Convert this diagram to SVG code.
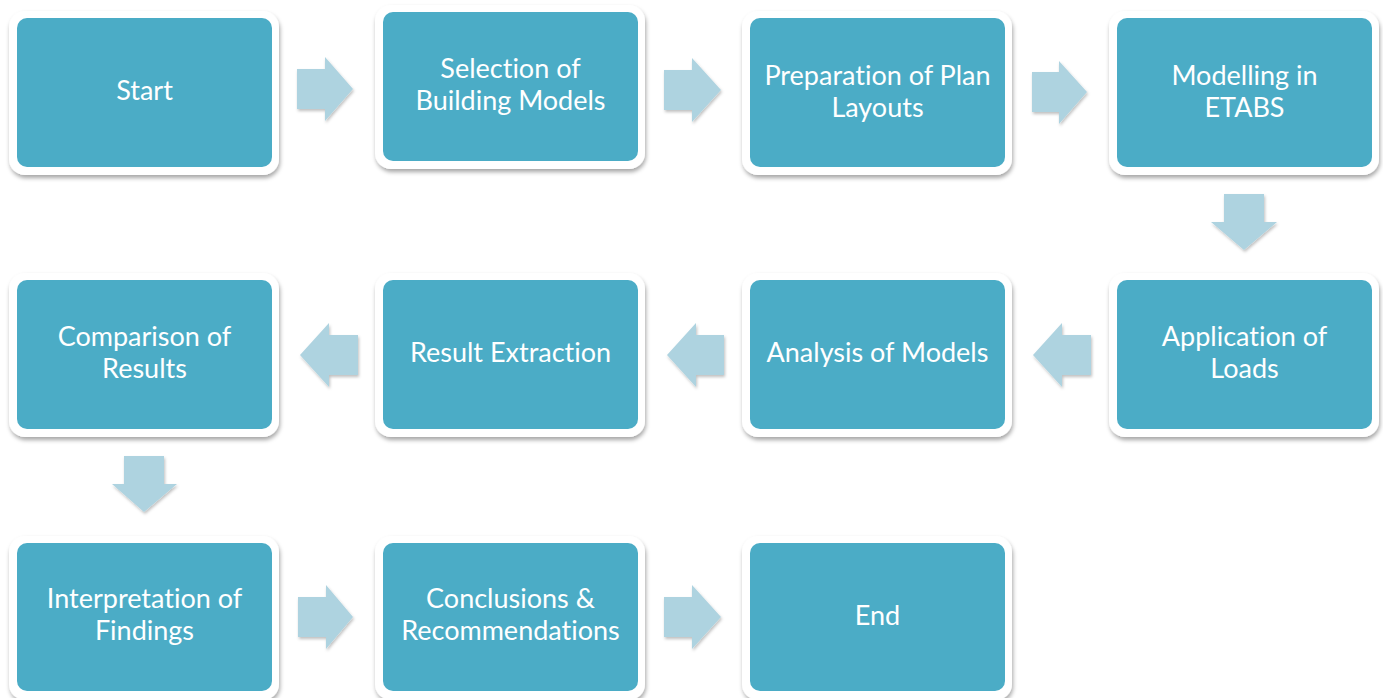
<svg xmlns="http://www.w3.org/2000/svg" width="1383" height="698" viewBox="0 0 1383 698">
<defs>
<filter id="sh" x="-10%" y="-10%" width="120%" height="130%">
<feDropShadow dx="1" dy="3" stdDeviation="2" flood-color="#000" flood-opacity="0.35"/>
</filter>
<filter id="ash" x="-20%" y="-20%" width="140%" height="140%">
<feDropShadow dx="1" dy="2" stdDeviation="1.5" flood-color="#000" flood-opacity="0.25"/>
</filter>
<style>
.frame{fill:#ffffff;filter:url(#sh)}
.box{fill:#4BACC6}
.lbl{fill:#ffffff;font-family:Lato,"Open Sans",sans-serif;font-size:27px;text-anchor:middle;font-variant-ligatures:none}
.arr{fill:#AED3E0;filter:url(#ash)}
</style>
</defs>
<rect width="1383" height="698" fill="#ffffff"/>
<g id="connectors">
<path class="arr" d="M297 69 H325 V57 L353 89 L325 121 V109 H297 Z"/>
<path class="arr" d="M664 70 H692 V58 L721 90 L692 122 V110 H664 Z"/>
<path class="arr" d="M1032 72 H1059 V61 L1087 92 L1059 124 V112 H1032 Z"/>
<path class="arr" d="M1224 194 V222 H1211 L1244 250 L1277 222 H1264 V194 Z"/>
<path class="arr" d="M1091 335 H1062 V323 L1033 355 L1062 387 V375 H1091 Z"/>
<path class="arr" d="M724 335 H696 V323 L667 355 L696 387 V375 H724 Z"/>
<path class="arr" d="M358 335 H329 V323 L300 355 L329 387 V375 H358 Z"/>
<path class="arr" d="M124 456 V484 H112 L144 512 L177 484 H164 V456 Z"/>
<path class="arr" d="M298 597 H326 V585 L353 617 L326 649 V637 H298 Z"/>
<path class="arr" d="M664 597 H692 V585 L721 617 L692 649 V637 H664 Z"/>
</g>
<g id="start">
<rect class="frame" x="9" y="11" width="270" height="164" rx="16"/>
<rect class="box" x="17" y="18" width="255" height="149" rx="10"/>
<text class="lbl" x="144.5" y="100">Start</text>
</g>
<g id="selection">
<rect class="frame" x="375" y="5" width="270" height="164" rx="16"/>
<rect class="box" x="383" y="12" width="255" height="149" rx="10"/>
<text class="lbl" x="510.5" y="78">Selection of</text>
<text class="lbl" x="510.5" y="110">Building Models</text>
</g>
<g id="preparation">
<rect class="frame" x="742" y="11" width="270" height="164" rx="16"/>
<rect class="box" x="750" y="18" width="255" height="149" rx="10"/>
<text class="lbl" x="877.5" y="85">Preparation of Plan</text>
<text class="lbl" x="877.5" y="117">Layouts</text>
</g>
<g id="modelling">
<rect class="frame" x="1109" y="11" width="270" height="164" rx="16"/>
<rect class="box" x="1117" y="18" width="255" height="149" rx="10"/>
<text class="lbl" x="1244.5" y="85">Modelling in</text>
<text class="lbl" x="1244.5" y="117">ETABS</text>
</g>
<g id="application">
<rect class="frame" x="1109" y="273" width="270" height="164" rx="16"/>
<rect class="box" x="1117" y="280" width="255" height="149" rx="10"/>
<text class="lbl" x="1244.5" y="346">Application of</text>
<text class="lbl" x="1244.5" y="378">Loads</text>
</g>
<g id="analysis">
<rect class="frame" x="742" y="273" width="270" height="164" rx="16"/>
<rect class="box" x="750" y="280" width="255" height="149" rx="10"/>
<text class="lbl" x="877.5" y="362">Analysis of Models</text>
</g>
<g id="extraction">
<rect class="frame" x="375" y="273" width="270" height="164" rx="16"/>
<rect class="box" x="383" y="280" width="255" height="149" rx="10"/>
<text class="lbl" x="510.5" y="362">Result Extraction</text>
</g>
<g id="comparison">
<rect class="frame" x="9" y="273" width="270" height="164" rx="16"/>
<rect class="box" x="17" y="280" width="255" height="149" rx="10"/>
<text class="lbl" x="144.5" y="346">Comparison of</text>
<text class="lbl" x="144.5" y="378">Results</text>
</g>
<g id="interpretation">
<rect class="frame" x="9" y="536" width="270" height="164" rx="16"/>
<rect class="box" x="17" y="543" width="255" height="148" rx="10"/>
<text class="lbl" x="144.5" y="608">Interpretation of</text>
<text class="lbl" x="144.5" y="640">Findings</text>
</g>
<g id="conclusions">
<rect class="frame" x="375" y="536" width="270" height="164" rx="16"/>
<rect class="box" x="383" y="543" width="255" height="148" rx="10"/>
<text class="lbl" x="510.5" y="608">Conclusions &amp;</text>
<text class="lbl" x="510.5" y="640">Recommendations</text>
</g>
<g id="end">
<rect class="frame" x="742" y="536" width="270" height="164" rx="16"/>
<rect class="box" x="750" y="543" width="255" height="148" rx="10"/>
<text class="lbl" x="877.5" y="625">End</text>
</g>
</svg>
